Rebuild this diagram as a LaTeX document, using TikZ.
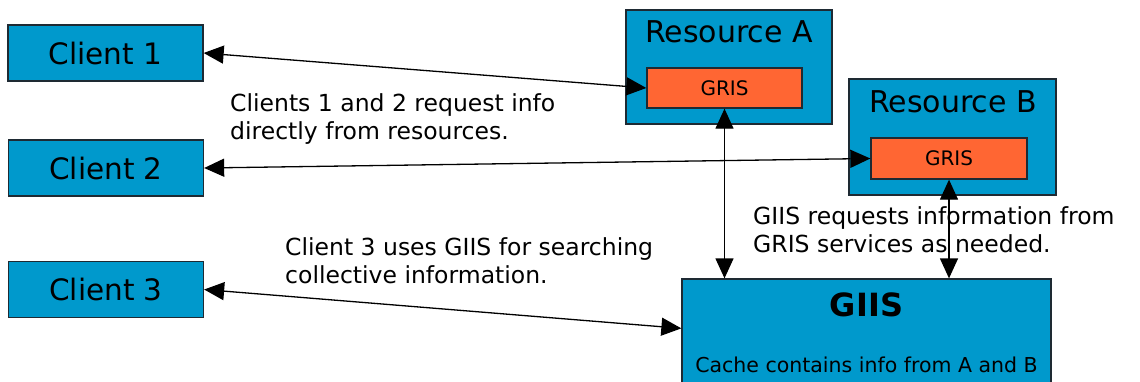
\documentclass[tikz,border=0pt]{standalone}
\usepackage{fontspec}
\setmainfont{DejaVu Sans}
\usetikzlibrary{arrows.meta,calc}
\definecolor{boxblue}{HTML}{0099CC}
\definecolor{grisorange}{HTML}{FF6633}
\definecolor{edge}{HTML}{1E2A33}
\tikzset{
  box/.style={draw=edge,line width=1.3pt,fill=boxblue,inner sep=0pt},
  grisbox/.style={draw=edge,line width=1.3pt,fill=grisorange,inner sep=0pt,
    minimum width=155pt,minimum height=40pt,font=\fontsize{20}{24}\selectfont},
  clientbox/.style={box,minimum width=195pt,minimum height=56pt,
    font=\fontsize{29.5}{34}\selectfont},
  title/.style={anchor=base,inner sep=0pt,font=\fontsize{30}{34}\selectfont},
  % multi-line notes: the base anchor sits on the last line
  note/.style={anchor=base west,inner sep=0pt,align=left,
    font=\fontsize{23.5}{28}\selectfont},
  link/.style={line width=1.3pt,{Triangle[length=20pt,width=18pt]}-{Triangle[length=20pt,width=18pt]}}
}
\begin{document}
\begin{tikzpicture}[x=1pt,y=-1pt]
\useasboundingbox[fill=white] (0,0) rectangle (1140,381);

% clients
\node[clientbox] (c1) at (105.5,53) {Client 1};
\node[clientbox] (c2) at (106,168) {Client 2};
\node[clientbox] (c3) at (106,289.5) {Client 3};

% resources with their GRIS services
\node[box,minimum width=206pt,minimum height=114pt] (resA) at (729,67) {};
\node[title] (resAlbl) at (729,42) {Resource A};
\node[grisbox] (grisA) at (724.5,88) {GRIS};

\node[box,minimum width=207pt,minimum height=116pt] (resB) at (952.5,137) {};
\node[title] (resBlbl) at (953,112) {Resource B};
\node[grisbox,minimum width=156pt,minimum height=41pt] (grisB) at (949,158.5) {GRIS};

% index service (runs off the lower edge)
\node[box,minimum width=369pt,minimum height=131pt] (giis) at (866.5,344.5) {};
\node[anchor=base,inner sep=0pt,font=\fontsize{32}{36}\selectfont\bfseries] (giislbl) at (866.5,316) {GIIS};
\node[anchor=base,inner sep=0pt,font=\fontsize{20.5}{24}\selectfont] (cache) at (866.5,372) {Cache contains info from A and B};
\coordinate (giisin) at ($(giis.north west)+(0,50)$);

% explanatory notes
\node[note] (n1) at (230,139) {Clients 1 and 2 request info\\directly from resources.};
\node[note] (n3) at (285,283) {Client 3 uses GIIS for searching\\collective information.};
\node[note] (n2) at (753,252) {GIIS requests information from\\GRIS services as needed.};

% queries
\draw[link] (c1.east) -- (grisA.west);
\draw[link] (c2.east) -- (grisB.west);
\draw[link] (c3.east) -- (giisin);
\draw[link] (grisA.south) -- (grisA.south |- giis.north);
\draw[link] (grisB.south) -- (grisB.south |- giis.north);
\end{tikzpicture}
\end{document}
